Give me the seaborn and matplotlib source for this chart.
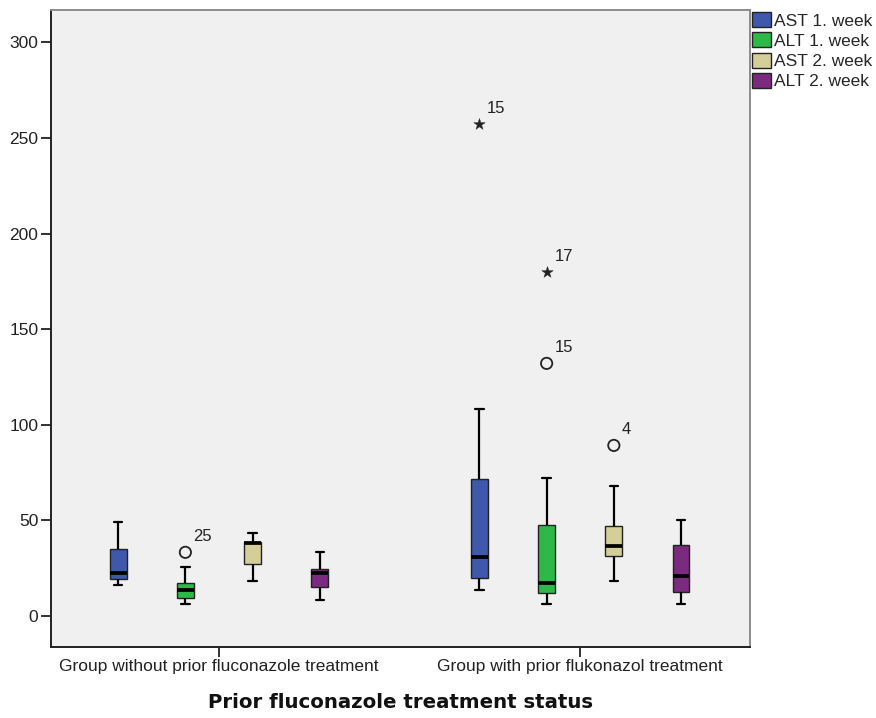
import numpy as np
import pandas as pd
import matplotlib.pyplot as plt
import seaborn as sns

# Categories
groups = ["Group without prior fluconazole treatment", "Group with prior flukonazol treatment"]
measures = ["AST 1. week", "ALT 1. week", "AST 2. week", "ALT 2. week"]
palette = ["#3e58ac", "#2eb848", "#d4cf98", "#7b2a7f"]

# Five-number summaries: [low whisker, Q1, median, Q3, high whisker]
ast_week1 = [[16.4, 19.3, 22.6, 34.8, 49.1], [13.4, 19.7, 30.8, 71.6, 108.2]]
alt_week1 = [[6.3, 9.6, 13.7, 17.1, 25.4], [6.3, 11.8, 17.4, 47.6, 72.1]]
ast_week2 = [[18.5, 27.2, 38.0, 38.7, 43.2], [18.3, 31.4, 36.8, 46.9, 68.1]]
alt_week2 = [[8.4, 15.3, 22.3, 24.7, 33.5], [6.3, 12.5, 20.7, 37.3, 50.2]]

# Outliers (circle) and extremes (star) with their case labels
outlier_group = [0, 1, 1, 1, 1]
outlier_measure = ["ALT 1. week", "AST 1. week", "ALT 1. week", "ALT 1. week", "AST 2. week"]
outlier_value = [33.3, 257.0, 179.9, 132.1, 89.2]
outlier_kind = ["outlier", "extreme", "extreme", "outlier", "outlier"]
outlier_label = ["25", "15", "17", "15", "4"]

BOX_WIDTH = 0.744

rows = []
for measure, per_group in zip(measures, [ast_week1, alt_week1, ast_week2, alt_week2]):
    for group, values in zip(groups, per_group):
        for v in values:
            rows.append({"group": group, "measure": measure, "value": v})
df = pd.DataFrame(rows)

sns.set_style("ticks")
plt.rcParams["font.family"] = ["Liberation Sans", "DejaVu Sans"]

fig = plt.figure(figsize=(8.76, 7.18), dpi=100)
ax = fig.add_axes([0.0582, 0.0989, 0.798, 0.887])
ax.set_facecolor("#f0f0f0")

sns.boxplot(
    data=df,
    x="group",
    y="value",
    hue="measure",
    order=groups,
    hue_order=measures,
    palette=palette,
    saturation=1,
    whis=(0, 100),
    width=BOX_WIDTH,
    gap=0.75,
    linewidth=1.0,
    linecolor="#222222",
    medianprops=dict(color="black", linewidth=2.7),
    whiskerprops=dict(color="black", linewidth=1.6),
    capprops=dict(color="black", linewidth=1.6),
    ax=ax,
)

# place outliers on the dodged box positions
step = BOX_WIDTH / len(measures)
odf = pd.DataFrame({
    "x": [g + (measures.index(m) - 1.5) * step for g, m in zip(outlier_group, outlier_measure)],
    "value": outlier_value,
    "kind": outlier_kind,
    "label": outlier_label,
})
circ = odf[odf["kind"] == "outlier"]
star = odf[odf["kind"] == "extreme"]
sns.scatterplot(data=circ, x="x", y="value", marker="o", s=66, facecolors="none",
                edgecolor="#222222", linewidth=1.3, legend=False, ax=ax)
sns.scatterplot(data=star, x="x", y="value", marker="*", s=75, color="#222222",
                edgecolor="#222222", linewidth=0.3, legend=False, ax=ax)
for _, r in odf.iterrows():
    ax.annotate(r["label"], (r["x"], r["value"]), xytext=(5.5, 6), textcoords="offset points",
                ha="left", va="bottom", fontsize=12, color="#222222")

ax.set_xlim(-0.465, 1.47)
ax.set_ylim(-16.2, 316.8)
ax.set_yticks(range(0, 301, 50))
ax.set_ylabel("")
ax.set_xlabel("Prior fluconazole treatment status", fontsize=14.2, fontweight="bold",
              family=["DejaVu Sans"], labelpad=13, color="#111111")
ax.tick_params(axis="both", direction="out", length=7, width=1.3, color="#222222",
               labelsize=12.5, labelcolor="#222222", pad=2)

for side in ["left", "bottom"]:
    ax.spines[side].set_color("#222222")
    ax.spines[side].set_linewidth(1.4)
for side in ["top", "right"]:
    ax.spines[side].set_visible(True)
    ax.spines[side].set_color("#8c8c8c")
    ax.spines[side].set_linewidth(1.4)

handles, labels = ax.get_legend_handles_labels()
ax.legend(handles, labels, loc="upper left", bbox_to_anchor=(0.8584, 0.983),
          bbox_transform=fig.transFigure, frameon=False, fontsize=12.5,
          handlelength=1.1, handleheight=0.95, handletextpad=0.15,
          labelspacing=0.22, borderaxespad=0, borderpad=0)

fig.savefig("out.png", dpi=100, facecolor="white")
